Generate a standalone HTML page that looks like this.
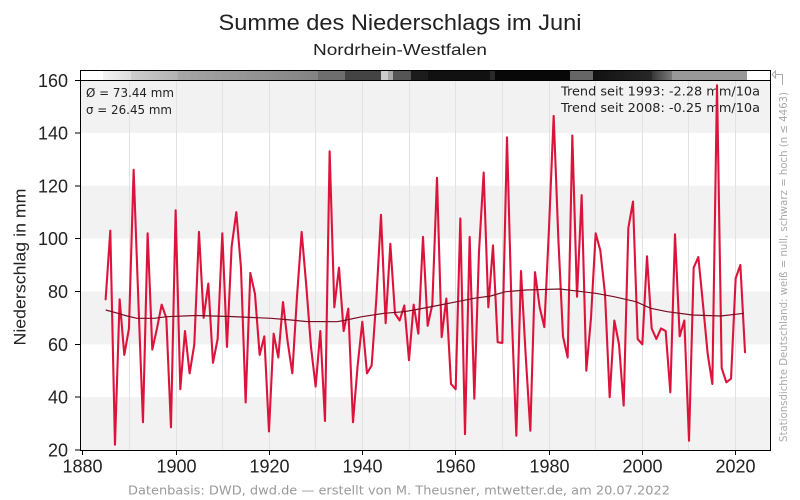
<!DOCTYPE html>
<html><head><meta charset="utf-8">
<style>html,body{margin:0;padding:0;background:#fff;}svg{display:block}</style>
</head>
<body>
<svg width="800" height="500" viewBox="0 0 800 500" xmlns="http://www.w3.org/2000/svg">
<defs>
<linearGradient id="g1" x1="0" x2="1" y1="0" y2="0"><stop offset="0" stop-color="#f3f3f3"/><stop offset="1" stop-color="#dddddd"/></linearGradient>
<linearGradient id="g2" x1="0" x2="1" y1="0" y2="0"><stop offset="0" stop-color="#cdcdcd"/><stop offset="1" stop-color="#b2b2b2"/></linearGradient>
<linearGradient id="g3" x1="0" x2="1" y1="0" y2="0"><stop offset="0" stop-color="#a6a6a6"/><stop offset="1" stop-color="#838383"/></linearGradient>
<linearGradient id="g4" x1="0" x2="1" y1="0" y2="0"><stop offset="0" stop-color="#111111"/><stop offset="1" stop-color="#282828"/></linearGradient>
<linearGradient id="g5" x1="0" x2="1" y1="0" y2="0"><stop offset="0" stop-color="#383838"/><stop offset="1" stop-color="#7a7a7a"/></linearGradient>
</defs>
<rect width="800" height="500" fill="#fff"/>

<!-- bands -->
<rect x="80" y="80" width="690" height="52.9" fill="#f2f2f2"/>
<rect x="80" y="185.7" width="690" height="52.9" fill="#f2f2f2"/>
<rect x="80" y="291.4" width="690" height="52.9" fill="#f2f2f2"/>
<rect x="80" y="397.1" width="690" height="52.9" fill="#f2f2f2"/>

<!-- vertical grid -->
<g stroke="#e2e2e2" stroke-width="1">
<line x1="129.5" y1="80" x2="129.5" y2="450"/>
<line x1="176.5" y1="80" x2="176.5" y2="450"/>
<line x1="222.5" y1="80" x2="222.5" y2="450"/>
<line x1="269.5" y1="80" x2="269.5" y2="450"/>
<line x1="315.5" y1="80" x2="315.5" y2="450"/>
<line x1="362.5" y1="80" x2="362.5" y2="450"/>
<line x1="409.5" y1="80" x2="409.5" y2="450"/>
<line x1="455.5" y1="80" x2="455.5" y2="450"/>
<line x1="502.5" y1="80" x2="502.5" y2="450"/>
<line x1="549.5" y1="80" x2="549.5" y2="450"/>
<line x1="595.5" y1="80" x2="595.5" y2="450"/>
<line x1="642.5" y1="80" x2="642.5" y2="450"/>
<line x1="688.5" y1="80" x2="688.5" y2="450"/>
<line x1="735.5" y1="80" x2="735.5" y2="450"/>
</g>

<!-- station density bar -->
<rect x="80.5" y="71" width="23" height="9" fill="#ffffff"/>
<rect x="103" y="71" width="28" height="9" fill="url(#g1)"/>
<rect x="131" y="71" width="47" height="9" fill="url(#g2)"/>
<rect x="178" y="71" width="140" height="9" fill="url(#g3)"/>
<rect x="318" y="71" width="27" height="9" fill="#6e6e6e"/>
<rect x="345" y="71" width="36" height="9" fill="#444444"/>
<rect x="381" y="71" width="7" height="9" fill="#cccccc"/>
<rect x="388" y="71" width="5" height="9" fill="#a8a8a8"/>
<rect x="393" y="71" width="18" height="9" fill="#555555"/>
<rect x="411" y="71" width="17" height="9" fill="#1c1c1c"/>
<rect x="428" y="71" width="62" height="9" fill="#111111"/>
<rect x="490" y="71" width="5" height="9" fill="#2a2a2a"/>
<rect x="495" y="71" width="75" height="9" fill="#080808"/>
<rect x="570" y="71" width="23" height="9" fill="#666666"/>
<rect x="593" y="71" width="59" height="9" fill="url(#g4)"/>
<rect x="652" y="71" width="20" height="9" fill="url(#g5)"/>
<rect x="672" y="71" width="75" height="9" fill="#999999"/>
<rect x="747" y="71" width="23" height="9" fill="#ffffff"/>

<!-- frame -->
<g stroke="#000" stroke-width="1" fill="none">
<line x1="80" y1="70.5" x2="771" y2="70.5"/>
<line x1="80" y1="80.5" x2="771" y2="80.5"/>
<line x1="80.5" y1="70" x2="80.5" y2="451"/>
<line x1="770.5" y1="70" x2="770.5" y2="451"/>
<line x1="80" y1="450.5" x2="771" y2="450.5"/>
</g>
<!-- ticks -->
<g stroke="#000" stroke-width="1">
<line x1="75" y1="80.5" x2="80" y2="80.5"/>
<line x1="75" y1="133" x2="80" y2="133"/>
<line x1="75" y1="186" x2="80" y2="186"/>
<line x1="75" y1="238.5" x2="80" y2="238.5"/>
<line x1="75" y1="291.5" x2="80" y2="291.5"/>
<line x1="75" y1="344.5" x2="80" y2="344.5"/>
<line x1="75" y1="397" x2="80" y2="397"/>
<line x1="75" y1="450" x2="80" y2="450"/>
<line x1="82.5" y1="450" x2="82.5" y2="455"/>
<line x1="176.5" y1="450" x2="176.5" y2="455"/>
<line x1="269.5" y1="450" x2="269.5" y2="455"/>
<line x1="362.5" y1="450" x2="362.5" y2="455"/>
<line x1="455.5" y1="450" x2="455.5" y2="455"/>
<line x1="549.5" y1="450" x2="549.5" y2="455"/>
<line x1="642.5" y1="450" x2="642.5" y2="455"/>
<line x1="735.5" y1="450" x2="735.5" y2="455"/>
</g>

<!-- y tick labels -->
<g font-family="Liberation Sans, sans-serif" font-size="18" fill="#222" text-anchor="end">
<text x="68" y="87">160</text>
<text x="68" y="139.5">140</text>
<text x="68" y="192.5">120</text>
<text x="68" y="245">100</text>
<text x="68" y="298">80</text>
<text x="68" y="351">60</text>
<text x="68" y="403.5">40</text>
<text x="68" y="456.5">20</text>
</g>
<!-- x tick labels -->
<g font-family="Liberation Sans, sans-serif" font-size="18" fill="#222" text-anchor="middle">
<text x="82.5" y="472.5">1880</text>
<text x="176.5" y="472.5">1900</text>
<text x="269.5" y="472.5">1920</text>
<text x="362.5" y="472.5">1940</text>
<text x="455.5" y="472.5">1960</text>
<text x="549.5" y="472.5">1980</text>
<text x="642.5" y="472.5">2000</text>
<text x="735.5" y="472.5">2020</text>
</g>

<!-- titles -->
<text x="400" y="30" font-family="Liberation Sans, sans-serif" font-size="22" fill="#222" text-anchor="middle" textLength="363" lengthAdjust="spacingAndGlyphs">Summe des Niederschlags im Juni</text>
<text x="400" y="55" font-family="Liberation Sans, sans-serif" font-size="15.5" fill="#222" text-anchor="middle" textLength="174" lengthAdjust="spacingAndGlyphs">Nordrhein-Westfalen</text>
<text transform="translate(25.5,267) rotate(-90)" font-family="Liberation Sans, sans-serif" font-size="17" fill="#222" text-anchor="middle" textLength="157" lengthAdjust="spacingAndGlyphs">Niederschlag in mm</text>

<!-- annotations -->
<g font-family="DejaVu Sans, sans-serif" font-size="12" fill="#222">
<text x="86" y="97" textLength="88" lengthAdjust="spacingAndGlyphs">Ø = 73.44 mm</text>
<text x="86" y="114" textLength="86" lengthAdjust="spacingAndGlyphs">σ = 26.45 mm</text>
<text x="561" y="95.5" textLength="199" lengthAdjust="spacingAndGlyphs">Trend seit 1993: -2.28 mm/10a</text>
<text x="561" y="112" textLength="199" lengthAdjust="spacingAndGlyphs">Trend seit 2008: -0.25 mm/10a</text>
</g>

<!-- right note -->
<text transform="translate(787,267) rotate(-90)" font-family="DejaVu Sans, sans-serif" font-size="11" fill="#aaa" text-anchor="middle" textLength="350" lengthAdjust="spacingAndGlyphs">Stationsdichte Deutschland: weiß = null, schwarz = hoch (n ≤ 4463)</text>
<g stroke="#aaa" stroke-width="1" fill="none">
<polyline points="774.5,85 774.5,74 782,74 782,85" stroke="none"/>
<line x1="775" y1="74.5" x2="783" y2="74.5"/>
<line x1="782.5" y1="74.5" x2="782.5" y2="85"/>
<polyline points="772,74.5 775.5,71 775.5,78 772,74.5" />
</g>

<!-- footer -->
<text x="399" y="494.5" font-family="DejaVu Sans, sans-serif" font-size="12" fill="#999" text-anchor="middle" textLength="542" lengthAdjust="spacingAndGlyphs">Datenbasis: DWD, dwd.de — erstellt von M. Theusner, mtwetter.de, am 20.07.2022</text>

<!-- data series -->
<g transform="translate(82.3,502.86) scale(4.667,-2.6429)">
<polyline fill="none" stroke="#dc143c" stroke-width="2.1" vector-effect="non-scaling-stroke" stroke-linejoin="round" stroke-linecap="round" points="5,77 6,103 7,22 8,77 9,56 10,66 11,126 12,77 13,30.5 14,102 15,58 16,66 17,75 18,70 19,28.6 20,110.7 21,43 22,65 23,49 24,60 25,102.5 26,70 27,83 28,53 29,62 30,102 31,59 32,97 33,110 34,89 35,38 36,87 37,79 38,56 39,63 40,27 41,64 42,55 43,76 44,61 45,49 46,78 47,102.5 48,82 49,59 50,44 51,65 52,31 53,133 54,74 55,89 56,65 57,73.5 58,30.5 59,52 60,68.5 61,49 62,52 63,77 64,109 65,68 66,98 67,71.6 68,69 69,74.7 70,54 71,75 72,64 73,100.6 74,67 75,75 76,123 77,62.7 78,77.3 79,45 80,43 81,107.6 82,26 83,100.6 84,39.4 85,95 86,125 87,74 88,97.4 89,60.8 90,60.5 91,138.3 92,72 93,25.4 94,87.7 95,56 96,27.3 97,87.3 98,74 99,66.5 100,104 101,146.4 102,100 103,63 104,55 105,139 106,78 107,116.4 108,50 109,70 110,102 111,95.5 112,79 113,40 114,69 115,60 116,36.8 117,104 118,114 119,62 120,60 121,93.3 122,66 123,62 124,66 125,65 126,41.8 127,101.6 128,63 129,69 130,23.5 131,89 132,93 133,75 134,56.4 135,45 136,158 137,51 138,45.6 139,47 140,85 141,90 142,57"/>
</g>

<!-- smoothed trend -->
<polyline fill="none" stroke="#7a0c22" stroke-width="1.2" stroke-linejoin="round" points="105.7,310 118,313.3 127,316 137,318.3 154,318.3 167,316.7 196,315.5 230,316.5 271,318.3 291,320 306,321.5 337,321.7 344,320.5 362,316.7 384,313.3 404,311.7 414,310 435,306 457,301.7 474,298.3 490.7,296 505.7,291.7 526,290 560,289 574,290.7 595.7,293.3 614,296.7 636,301.7 650.7,308.3 667.3,311.7 692.3,315 720.7,316 744,313.3"/>
</svg>
</body>
</html>
